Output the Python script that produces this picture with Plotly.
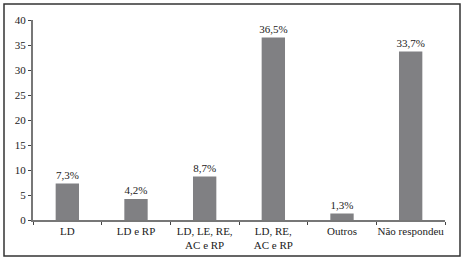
import plotly.graph_objects as go

categories = ["LD", "LD e RP", "LD, LE, RE,<br>AC e RP", "LD, RE,<br>AC e RP", "Outros", "Não respondeu"]
values = [7.3, 4.2, 8.7, 36.5, 1.3, 33.7]
labels = ["7,3%", "4,2%", "8,7%", "36,5%", "1,3%", "33,7%"]
y_ticks = [0, 5, 10, 15, 20, 25, 30, 35, 40]

font = dict(family="Liberation Serif", size=11, color="#222222")

fig = go.Figure(go.Bar(
    x=categories, y=values, text=labels, textposition="outside",
    marker=dict(color="#808083", line=dict(width=0)),
    textfont=font, cliponaxis=False, constraintext="none",
))

W, H = 464, 260
l, r, t, b = 33, 19, 20, 40
pw, ph = W - l - r, H - t - b

def px(x):
    return (x - l) / pw

def py(y):
    return (H - b - y) / ph

fig.update_layout(
    width=W, height=H,
    margin=dict(l=l, r=r, t=t, b=b, autoexpand=False),
    paper_bgcolor="white", plot_bgcolor="white",
    bargap=0.66, showlegend=False, font=font,
    xaxis=dict(
        showline=True, linecolor="#777777", linewidth=1.5,
        ticks="outside", tickson="boundaries", ticklen=3, tickcolor="#444444",
        tickfont=font, showgrid=False, tickangle=0, automargin=False,
    ),
    yaxis=dict(
        range=[0, 40], tickvals=y_ticks, showline=True, linecolor="#777777", linewidth=2,
        ticks="outside", ticklen=3, tickcolor="#444444", tickfont=font,
        showgrid=False, zeroline=False, automargin=False,
    ),
    shapes=[dict(
        type="rect", xref="paper", yref="paper",
        x0=px(4), x1=px(460), y0=py(256), y1=py(4),
        line=dict(color="#333333", width=1.5), fillcolor="rgba(0,0,0,0)", layer="below",
    )],
)

fig.write_html(
    "out.html",
    config={"displayModeBar": False},
    post_script="document.body.style.margin='0';document.body.style.padding='0';",
)
